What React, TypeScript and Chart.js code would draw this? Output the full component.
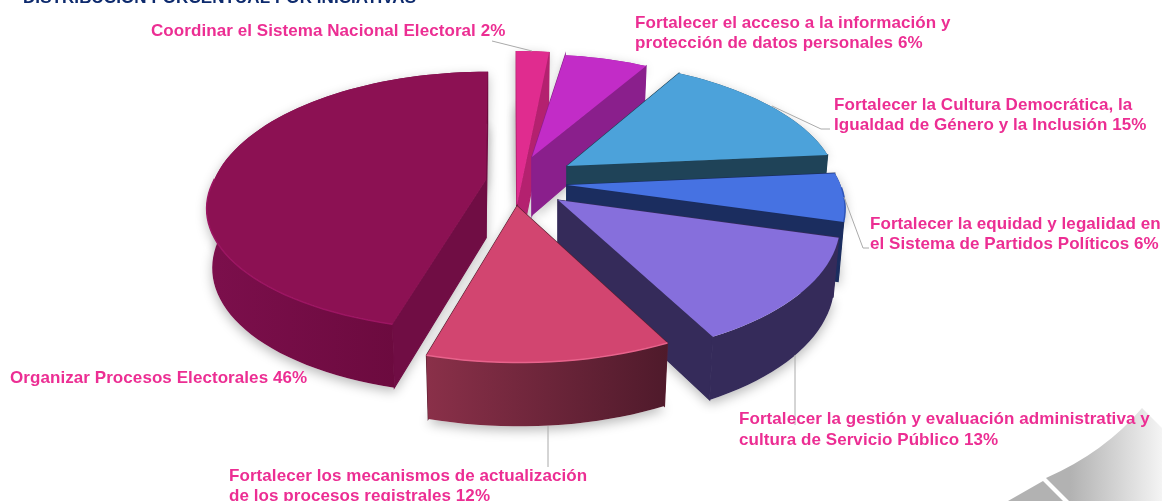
import React, { useEffect, useRef } from "react";
import { Chart, registerables } from "chart.js";

Chart.register(...registerables);

// ---- data ----
const categories = [
  "Coordinar el Sistema Nacional Electoral",
  "Fortalecer el acceso a la información y protección de datos personales",
  "Fortalecer la Cultura Democrática, la Igualdad de Género y la Inclusión",
  "Fortalecer la equidad y legalidad en el Sistema de Partidos Políticos",
  "Fortalecer la gestión y evaluación administrativa y cultura de Servicio Público",
  "Fortalecer los mecanismos de actualización de los procesos registrales",
  "Organizar Procesos Electorales",
];
const percentages = [2, 6, 15, 6, 13, 12, 46];
const titleText = "DISTRIBUCIÓN PORCENTUAL POR INICIATIVAS";
const labelLines = [
  ["Coordinar el Sistema Nacional Electoral 2%"],
  ["Fortalecer el acceso a la información y", "protección de datos personales 6%"],
  ["Fortalecer la Cultura Democrática, la", "Igualdad de Género y la Inclusión 15%"],
  ["Fortalecer la equidad y legalidad en", "el Sistema de Partidos Políticos 6%"],
  ["Fortalecer la gestión y evaluación administrativa y", "cultura de Servicio Público 13%"],
  ["Fortalecer los mecanismos de actualización", "de los procesos registrales 12%"],
  ["Organizar Procesos Electorales 46%"],
];

// ---- styles ----
const topColors = ["#e02c8f", "#c22cc7", "#4ca2da", "#4672e2", "#866fdc", "#d24570", "#8c1153"];
const wallLeft = ["#b4216f", "#8a1f8c", "#1f4358", "#1b2d5f", "#352b5a", "#8a3049", "#7c0f4c"];
const wallRight = ["#b4216f", "#8a1f8c", "#1f4358", "#1b2d5f", "#352b5a", "#4f1a2b", "#640838"];
const radialWalls = ["#b4216f", "#8a1f8c", "#1f4358", "#1b2d5f", "#352b5a", "#5a1d30", "#700d44"];
const rimColors = [null, null, null, "#2f55b8", null, "#e8638c", "#9c1562"];
// back-to-front painting order (indices into the series)
const paintOrder = [0, 1, 2, 3, 4, 6, 5];
// perspective view of each exploded slice:
// [apexX, apexY, scaleX, scaleY back, shearX back, shearY, perspective, shearX front, scaleY front]
const sliceViews = [
  [517, 205, 303, 177, 1, -2, 0.15, 1, 177],
  [532, 157, 257, 118, -6, 1, 0.15, -6, 118],
  [567, 166, 268, 122, 3, 4, 0.15, 3, 122],
  [567, 185, 275, 128, 0, 4, 0.15, 0, 128],
  [558, 200, 279, 134, 0, 3, 0.15, 0, 134],
  [517, 206, 284, 133, -7, 5, 0.15, -7, 133],
  [486, 180, 272, 130, -2, 0, 0.2, -8, 120],
];
const DEPTH = 58;
const DEPTH_GROWTH = 0.1;
const BOTTOM_SHRINK = 0.98;
const FONT = 'bold 17px "Liberation Sans", Arial, sans-serif';
const TEXT_SPACING = "0.07px";
const TEXT_COLOR = "#ec2e93";
const LEADER_COLOR = "#aaaaaa";
// label anchors: [x, first baseline, line height]
const labelAnchors = [
  [151, 36, 20],
  [635, 28, 20],
  [834, 110, 20],
  [870, 229, 20],
  [739, 424, 21],
  [229, 481, 20],
  [10, 383, 20],
];
const leaderLines = [
  [[492, 41], [532, 51]],
  [[772, 106], [821, 129], [830, 129]],
  [[844, 197], [863, 248], [869, 248]],
  [[795, 355], [795, 425]],
  [[548, 426], [548, 467]],
];

type Pt = [number, number];

function frontness(angle: number): number {
  return -Math.cos(angle + Math.PI / 2);
}

function project(i: number, angle: number, r: number, low: boolean): Pt {
  const [ax, ay, sa, sbBack, shxBack, shy, k, shxFront, sbFront] = sliceViews[i];
  const th = angle + Math.PI / 2;
  const u = r * Math.sin(th);
  const v = -r * Math.cos(th);
  const w = 1 - k * v;
  const shx = v > 0 ? shxFront : shxBack;
  const sb = v > 0 ? sbFront : sbBack;
  let x = (sa * u + shx * v) / w;
  const y = (sb * v + shy * u) / w;
  if (low) x *= BOTTOM_SHRINK;
  return [ax + x, ay + y + (low ? DEPTH * (1 + DEPTH_GROWTH * v) : 0)];
}

function arcAngles(el: any): number[] {
  const n = Math.max(8, Math.ceil(((el.endAngle - el.startAngle) / (2 * Math.PI)) * 160));
  const out: number[] = [];
  for (let k = 0; k <= n; k++) out.push(el.startAngle + ((el.endAngle - el.startAngle) * k) / n);
  return out;
}

function facePath(ctx: CanvasRenderingContext2D, i: number, angles: number[], low: boolean) {
  ctx.beginPath();
  const c = project(i, 0, 0, low);
  ctx.moveTo(c[0], c[1]);
  angles.forEach((a) => {
    const p = project(i, a, 1, low);
    ctx.lineTo(p[0], p[1]);
  });
  ctx.closePath();
}

function polygon(ctx: CanvasRenderingContext2D, pts: Pt[], fill: any, strokeIt: boolean) {
  ctx.beginPath();
  pts.forEach((p, k) => (k === 0 ? ctx.moveTo(p[0], p[1]) : ctx.lineTo(p[0], p[1])));
  ctx.closePath();
  ctx.fillStyle = fill;
  ctx.fill();
  if (strokeIt) {
    ctx.strokeStyle = fill;
    ctx.lineWidth = 1.2;
    ctx.stroke();
  }
}

const pie3d = {
  id: "pie3d",
  beforeDatasetsDraw(chart: any) {
    const ctx: CanvasRenderingContext2D = chart.ctx;
    const arcs = chart.getDatasetMeta(0).data;

    // corner decoration
    ctx.save();
    const g = ctx.createLinearGradient(1070, 0, 1162, 0);
    g.addColorStop(0, "#b2b2b2");
    g.addColorStop(1, "#f4f4f4");
    ctx.fillStyle = g;
    ctx.beginPath();
    ctx.moveTo(1008, 501);
    ctx.lineTo(1043, 481);
    ctx.lineTo(1063, 501);
    ctx.closePath();
    ctx.fill();
    ctx.beginPath();
    ctx.moveTo(1046, 478);
    ctx.quadraticCurveTo(1105, 452, 1142, 408);
    ctx.lineTo(1162, 428);
    ctx.lineTo(1162, 501);
    ctx.lineTo(1069, 501);
    ctx.closePath();
    ctx.fill();
    ctx.restore();

    // soft shadows, behind everything
    ctx.save();
    ctx.shadowColor = "rgba(0,0,0,0.28)";
    ctx.shadowBlur = 12;
    ctx.shadowOffsetY = 4;
    paintOrder.forEach((i) => {
      const angles = arcAngles(arcs[i]);
      ctx.fillStyle = "#ffffff";
      facePath(ctx, i, angles, true);
      ctx.fill();
      facePath(ctx, i, angles, false);
      ctx.fill();
    });
    ctx.restore();

    paintOrder.forEach((i) => {
      const el = arcs[i];
      const angles = arcAngles(el);
      const xs = angles.map((a) => project(i, a, 1, false)[0]);
      const grad = ctx.createLinearGradient(Math.min(...xs), 0, Math.max(...xs), 0);
      grad.addColorStop(0, wallLeft[i]);
      grad.addColorStop(1, wallRight[i]);
      const cTop = project(i, 0, 0, false);
      const cLow = project(i, 0, 0, true);
      // radial walls
      [angles[0], angles[angles.length - 1]].forEach((a) => {
        polygon(ctx, [cTop, project(i, a, 1, false), project(i, a, 1, true), cLow], radialWalls[i], true);
      });
      // outer wall as one band
      const upper = angles.map((a) => project(i, a, 1, false));
      const lower = angles.map((a) => project(i, a, 1, true)).reverse();
      polygon(ctx, [...upper, ...lower], grad, false);
      // top face
      facePath(ctx, i, angles, false);
      ctx.fillStyle = topColors[i];
      ctx.fill();
      if (rimColors[i]) {
        ctx.beginPath();
        let started = false;
        angles.forEach((a) => {
          if (frontness(a) < -0.02) return;
          const p = project(i, a, 1, false);
          if (!started) ctx.moveTo(p[0], p[1]);
          else ctx.lineTo(p[0], p[1]);
          started = true;
        });
        ctx.strokeStyle = rimColors[i] as string;
        ctx.lineWidth = 1.5;
        ctx.stroke();
      }
    });
    return false;
  },
  afterDraw(chart: any) {
    const ctx: CanvasRenderingContext2D = chart.ctx;
    ctx.save();
    // leader lines
    ctx.strokeStyle = LEADER_COLOR;
    ctx.lineWidth = 1;
    leaderLines.forEach((line) => {
      ctx.beginPath();
      line.forEach((p, k) => (k === 0 ? ctx.moveTo(p[0], p[1]) : ctx.lineTo(p[0], p[1])));
      ctx.stroke();
    });
    // labels
    (ctx as any).letterSpacing = TEXT_SPACING;
    ctx.font = FONT;
    ctx.fillStyle = TEXT_COLOR;
    ctx.textAlign = "left";
    ctx.textBaseline = "alphabetic";
    labelLines.forEach((lines, i) => {
      const [x, y, lh] = labelAnchors[i];
      lines.forEach((t, k) => ctx.fillText(t, x, y + k * lh));
    });
    // clipped title
    ctx.fillStyle = "#0d2a6d";
    ctx.fillText(titleText, 23, 3);
    (ctx as any).letterSpacing = "0px";
    ctx.restore();
  },
};

export default function App() {
  const ref = useRef<HTMLCanvasElement>(null);
  useEffect(() => {
    document.body.style.margin = "0";
    document.body.style.background = "#ffffff";
    const chart = new Chart(ref.current as HTMLCanvasElement, {
      type: "pie",
      data: {
        labels: categories,
        datasets: [{ data: percentages, backgroundColor: topColors, borderWidth: 0 }],
      },
      options: {
        responsive: false,
        animation: false,
        rotation: 0,
        layout: { padding: 0 },
        plugins: { legend: { display: false }, title: { display: false }, tooltip: { enabled: false } },
      },
      plugins: [pie3d],
    } as any);
    return () => chart.destroy();
  }, []);
  return (
    <div style={{ position: "absolute", left: 0, top: 0, width: 1162, height: 501, overflow: "hidden" }}>
      <canvas ref={ref} width={1162} height={501} style={{ display: "block" }} />
    </div>
  );
}
